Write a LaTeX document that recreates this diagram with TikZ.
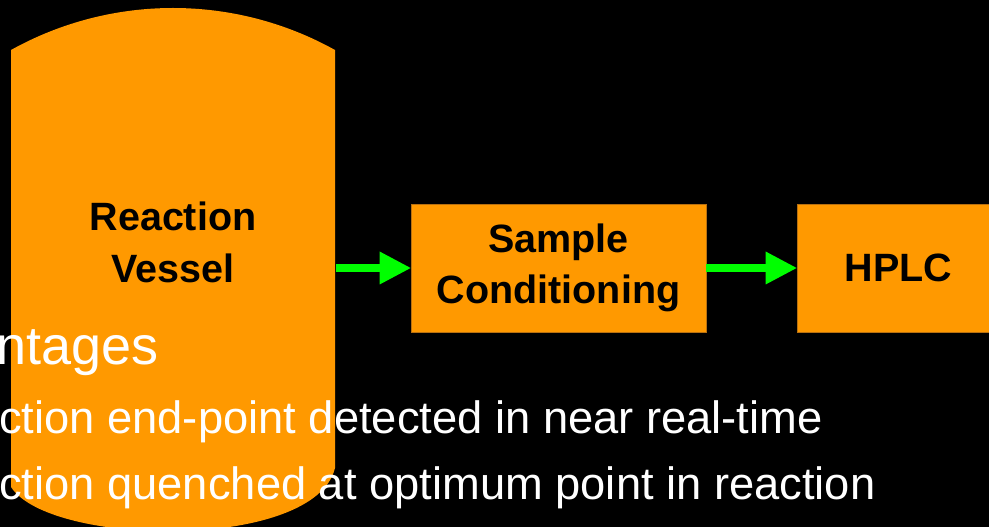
\documentclass[tikz,border=0pt]{standalone}
\usepackage{fontspec}
\setmainfont{Liberation Sans}
\usetikzlibrary{arrows.meta}
\definecolor{vesselorange}{HTML}{FF9900}
\definecolor{boxedge}{HTML}{B87010}
\definecolor{flowgreen}{HTML}{00FF00}
\tikzset{
  procbox/.style={rectangle, fill=vesselorange, draw=boxedge, line width=0.75pt,
    minimum height=128pt, inner sep=0pt, align=center, text=black,
    font=\bfseries\fontsize{39.5}{51}\selectfont},
  flowarrow/.style={draw=flowgreen, line width=8.3pt,
    -{Triangle[length=31pt,width=33pt,line width=0pt]}},
  bullettext/.style={anchor=base west, inner sep=0pt, text=white,
    font=\fontsize{45.3}{54}\selectfont},
  titletext/.style={anchor=base west, inner sep=0pt, text=white,
    font=\fontsize{54}{64}\selectfont},
  vessellabel/.style={align=center, inner sep=0pt, text=black,
    font=\bfseries\fontsize{39.5}{52}\selectfont}
}
\begin{document}
\begin{tikzpicture}[x=1pt,y=1pt]
\useasboundingbox (0,0) rectangle (989,527);
\fill[black] (0,0) rectangle (989,527);
\clip (0,0) rectangle (989,527);
% reaction vessel
\fill[vesselorange] (11,40) -- (11,477)
  arc[start angle=119.07, end angle=60.93, radius=333.43]
  -- (335,59) .. controls (315,-24) and (50,-20) .. (11,40) -- cycle;
\node[vessellabel] (vessel) at (173,284.5) {Reaction\\Vessel};
\coordinate (vesselout) at (336,259);
% process boxes
\node[procbox, minimum width=295pt] (sample) at (558.5,259) {Sample\\[-0.5pt]Conditioning};
\node[procbox, minimum width=203pt] (hplc) at (898.5,259) {HPLC};
% connectors
\draw[flowarrow] (vesselout) -- (sample.west);
\draw[flowarrow] (sample.east) -- (hplc.west);
% slide text
\node[titletext] (adv) at (-3.5,162) {ntages};
\node[bullettext] (pointa) at (-1,93) {ction end-point detected in near real-time};
\node[bullettext] (pointb) at (-1,27) {ction quenched at optimum point in reaction};
\end{tikzpicture}
\end{document}
